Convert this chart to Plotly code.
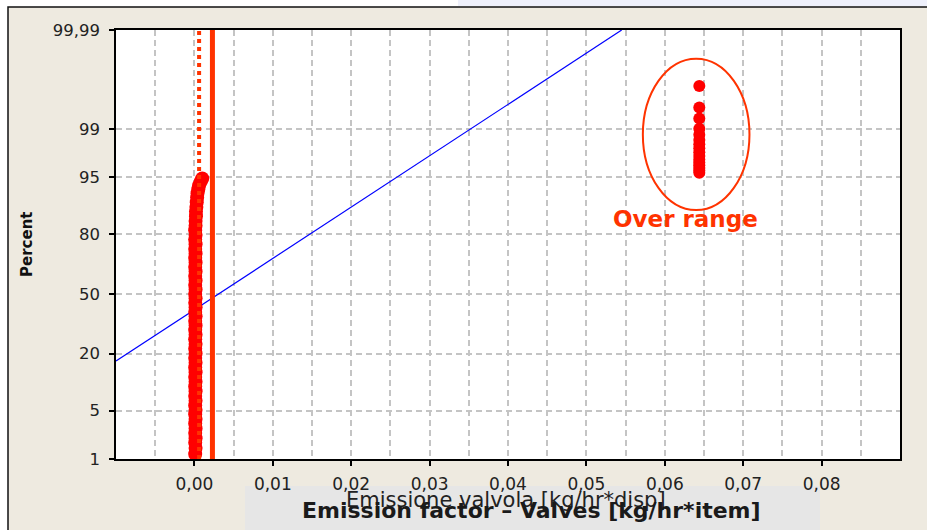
import plotly.graph_objects as go
from statistics import NormalDist

nd = NormalDist()

def z(p):
    return nd.inv_cdf(p / 100.0)

# ---- data ----
main_pct = [1.2, 1.5, 1.8, 2.1, 2.5, 2.9, 3.4, 3.9, 4.5, 5.1, 5.8, 6.6, 7.5, 8.5, 9.6,
            10.8, 12.1, 13.5, 15.0, 16.6, 18.3, 20.1, 22.0, 24.0, 26.1, 28.3, 30.5,
            32.8, 35.2, 37.6, 40.0, 42.5, 45.0, 47.5, 50.0, 52.5, 55.0, 57.5, 60.0,
            62.4, 64.8, 67.1, 69.4, 71.6, 73.7, 75.8, 77.8, 79.7, 81.5, 83.2, 84.8,
            86.3, 87.7, 89.0, 90.2, 91.3, 92.2, 93.0, 93.7, 94.3, 94.8]
main_x = [0.0001, 0.00015, 0.0001, 0.00015, 0.0001, 0.00015, 0.0001, 0.00015, 0.0001, 0.00015,
          0.0001, 0.00015, 0.0001, 0.00015, 0.0001, 0.00015, 0.0001, 0.00015, 0.0001, 0.00015,
          0.0001, 0.00015, 0.0001, 0.00015, 0.0001, 0.00015, 0.0001, 0.00015, 0.0001, 0.00015,
          0.0001, 0.00015, 0.0001, 0.00015, 0.0001, 0.00015, 0.0001, 0.00015, 0.0001, 0.00015,
          0.0001, 0.00015, 0.0001, 0.00015, 0.0001, 0.00015, 0.0001, 0.00015, 0.0001, 0.00015,
          0.00015, 0.0002, 0.0002, 0.00025, 0.0003, 0.00035, 0.0004, 0.0005, 0.0006, 0.0008, 0.0010]

over_pct = [95.6, 95.9, 96.2, 96.5, 96.8, 97.1, 97.4, 97.7, 98.0, 98.25, 98.5, 98.75,
            99.0, 99.33, 99.57, 99.83]
over_x = [0.0644] * len(over_pct)

fit_x = [-0.01, 0.0545]
fit_pct = [17.2, 99.99]

limit_dotted_x = 0.0006
limit_solid_x = 0.0023

y_tick_pct = [1, 5, 20, 50, 80, 95, 99, 99.99]
y_tick_text = ["1", "5", "20", "50", "80", "95", "99", "99,99"]

x_range = [-0.01, 0.09]
y_range_pct = [1, 99.99]

RED = "#FF0000"
ORANGE = "#FF3300"
FONT = "DejaVu Sans"

fig = go.Figure()

fig.add_trace(go.Scatter(x=fit_x, y=[z(p) for p in fit_pct], mode="lines",
                         line=dict(color="#0000FF", width=1.2), hoverinfo="skip"))
fig.add_trace(go.Scatter(x=main_x, y=[z(p) for p in main_pct], mode="markers",
                         marker=dict(color=RED, size=14, line=dict(width=0))))
fig.add_trace(go.Scatter(x=over_x, y=[z(p) for p in over_pct], mode="markers",
                         marker=dict(color=RED, size=12, line=dict(width=0))))
yr = [z(p) for p in y_range_pct]
fig.add_trace(go.Scatter(x=[limit_dotted_x, limit_dotted_x], y=yr, mode="lines",
                         line=dict(color=ORANGE, width=4, dash="4px,4px")))
fig.add_trace(go.Scatter(x=[limit_solid_x, limit_solid_x], y=yr, mode="lines",
                         line=dict(color=ORANGE, width=5)))

W, H = 927, 530
L, R, T, B = 116, 900, 30, 459

def px(xp):
    return (xp - L) / (R - L)

def py(yp):
    return (B - yp) / (B - T)

shapes = [
    dict(type="rect", xref="paper", yref="paper", x0=px(-5), x1=px(W + 5), y0=py(7), y1=py(-5),
         fillcolor="white", line=dict(width=0), layer="below"),
    dict(type="rect", xref="paper", yref="paper", x0=px(458), x1=px(W + 5), y0=py(6), y1=py(-5),
         fillcolor="#EEF0FB", line=dict(width=0), layer="below"),
    dict(type="rect", xref="paper", yref="paper", x0=px(-5), x1=px(8), y0=py(H + 5), y1=py(7),
         fillcolor="white", line=dict(width=0), layer="below"),
    dict(type="rect", xref="paper", yref="paper", x0=px(8), x1=px(W + 20), y0=py(H + 20), y1=py(7),
         fillcolor="rgba(0,0,0,0)", line=dict(color="#111111", width=1.5), layer="below"),
    dict(type="rect", xref="paper", yref="paper", x0=px(245), x1=px(820), y0=py(H + 5), y1=py(486),
         fillcolor="#E6E6E6", line=dict(width=0), layer="below"),
    dict(type="circle", xref="x", yref="y", x0=0.0572, x1=0.0708, y0=1.182, y1=3.314,
         line=dict(color=ORANGE, width=2), fillcolor="rgba(0,0,0,0)"),
]

annotations = [
    dict(text="Over range", x=0.0626, y=1.05, xref="x", yref="y", showarrow=False,
         xanchor="center", yanchor="middle",
         font=dict(family=FONT, size=23, color=ORANGE, weight="bold")),
    dict(text="Percent", x=px(27), y=py(245), xref="paper", yref="paper", showarrow=False,
         xanchor="center", yanchor="middle", textangle=-90,
         font=dict(family=FONT, size=15, color="#111111", weight="bold")),
    dict(text="Emissione valvola [kg/hr*disp]", x=px(506), y=py(500), xref="paper", yref="paper",
         showarrow=False, xanchor="center", yanchor="middle",
         font=dict(family=FONT, size=21, color="#222222")),
    dict(text="Emission factor \u2013 Valves [kg/hr*item]", x=px(531), y=py(511), xref="paper",
         yref="paper", showarrow=False, xanchor="center", yanchor="middle",
         font=dict(family=FONT, size=22, color="#1a1a1a", weight="bold")),
]

grid_col = "#C4C4C4"
fig.update_layout(
    width=W, height=H,
    margin=dict(l=L, r=W - R, t=T, b=H - B, pad=0),
    paper_bgcolor="#EEEAE0",
    plot_bgcolor="white",
    showlegend=False,
    separators=",.",
    shapes=shapes,
    annotations=annotations,
    xaxis=dict(range=x_range, tickformat=".2f",
               tickvals=[0, 0.01, 0.02, 0.03, 0.04, 0.05, 0.06, 0.07, 0.08],
               ticks="outside", ticklen=5, tickcolor="black", tickwidth=1.5,
               showline=True, linecolor="black", linewidth=1.5, mirror=True,
               showgrid=True, gridcolor=grid_col, gridwidth=1.5, griddash="6px,4px",
               minor=dict(tickvals=[-0.005, 0.005, 0.015, 0.025, 0.035, 0.045, 0.055,
                                    0.065, 0.075, 0.085],
                          showgrid=True, gridcolor=grid_col, gridwidth=1.5, griddash="6px,4px",
                          ticks=""),
               zeroline=False, ticklabelstandoff=4,
               tickfont=dict(family=FONT, size=17, color="#222222")),
    yaxis=dict(range=yr, tickvals=[z(p) for p in y_tick_pct], ticktext=y_tick_text,
               ticks="outside", ticklen=5, tickcolor="black", tickwidth=1.5,
               showline=True, linecolor="black", linewidth=1.5, mirror=True,
               showgrid=True, gridcolor=grid_col, gridwidth=1.5, griddash="6px,4px",
               zeroline=False, ticklabelstandoff=6,
               tickfont=dict(family=FONT, size=16.5, color="#222222")),
)

fig.write_html("out.html", config={"displayModeBar": False},
               post_script="document.body.style.margin='0';document.body.style.overflow='hidden';")
